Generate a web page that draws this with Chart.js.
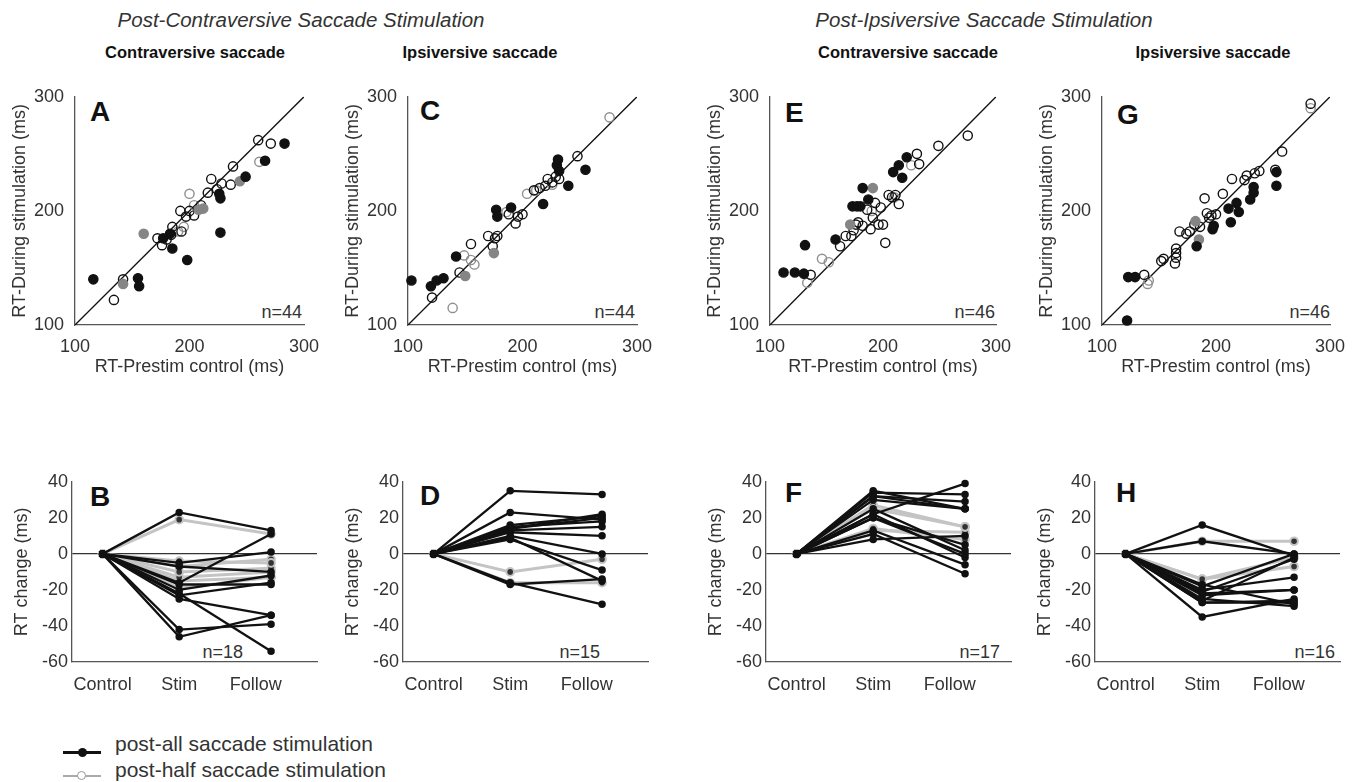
<!DOCTYPE html>
<html>
<head>
<meta charset="utf-8">
<script src="https://cdn.jsdelivr.net/npm/chart.js@4.4.1/dist/chart.umd.min.js"></script>
<style>
  body { margin: 0; width: 1359px; height: 782px; background: #fff; position: relative; overflow: hidden;
         font-family: "Liberation Sans", Arial, sans-serif; color: #333; }
  canvas { position: absolute; }
  .t { position: absolute; white-space: nowrap; line-height: 1; }
  .sup { font-size: 20.5px; font-style: italic; transform: translateX(-50%); }
  .ttl { font-size: 16.5px; font-weight: bold; color: #111; transform: translateX(-50%); }
  .let { font-size: 28px; font-weight: bold; color: #111; }
  .n { font-size: 18px; transform: translateX(-100%); }
  .leg { font-size: 21px; }
  .mk { position: absolute; }
</style>
</head>
<body>

<div class="t sup" style="left:301px;top:10px">Post-Contraversive Saccade Stimulation</div>
<div class="t sup" style="left:984px;top:10px">Post-Ipsiversive Saccade Stimulation</div>

<div class="t ttl" style="left:195px;top:44px">Contraversive saccade</div>
<div class="t ttl" style="left:480px;top:44px">Ipsiversive saccade</div>
<div class="t ttl" style="left:908px;top:44px">Contraversive saccade</div>
<div class="t ttl" style="left:1213px;top:44px">Ipsiversive saccade</div>

<div class="t let" style="left:90px;top:98px">A</div>
<div class="t let" style="left:420px;top:97px">C</div>
<div class="t let" style="left:785px;top:99px">E</div>
<div class="t let" style="left:1117px;top:101px">G</div>
<div class="t let" style="left:90px;top:483px">B</div>
<div class="t let" style="left:420px;top:482px">D</div>
<div class="t let" style="left:785px;top:479px">F</div>
<div class="t let" style="left:1116px;top:479px">H</div>

<div class="t n" style="left:302px;top:303px">n=44</div>
<div class="t n" style="left:635px;top:303px">n=44</div>
<div class="t n" style="left:995px;top:303px">n=46</div>
<div class="t n" style="left:1330px;top:303px">n=46</div>
<div class="t n" style="left:243px;top:643px">n=18</div>
<div class="t n" style="left:600px;top:643px">n=15</div>
<div class="t n" style="left:1000px;top:643px">n=17</div>
<div class="t n" style="left:1335px;top:643px">n=16</div>

<div class="mk" style="left:63px;top:751px;width:38px;height:3px;background:#111"></div>
<div class="mk" style="left:78px;top:748px;width:9px;height:9px;border-radius:50%;background:#111"></div>
<div class="t leg" style="left:115px;top:733px">post-all saccade stimulation</div>
<div class="mk" style="left:63px;top:775px;width:38px;height:2px;background:#aaa"></div>
<div class="mk" style="left:77px;top:771px;width:7px;height:7px;border-radius:50%;background:#fff;border:1.5px solid #999"></div>
<div class="t leg" style="left:115px;top:759px">post-half saccade stimulation</div>

<script>
// scatter panels: [prestim RT, during-stim RT] in ms
var rtTicks = [100, 200, 300];
var unity = [100, 300];

var A_solid = [[116,140],[155,141],[156,134],[177,176],[183,180],[185,167],[198,157],[226,215],[227,211],[227,181],[249,230],[266,244],[283,259]];
var A_gray = [[142,136],[160,180],[208,201],[212,202],[244,226]];
var A_open = [[134,122],[142,140],[172,176],[176,170],[180,175],[184,179],[185,186],[193,182],[192,200],[197,195],[200,200],[204,196],[210,205],[216,216],[224,219],[219,228],[228,224],[236,223],[238,239],[260,262],[271,259]];
var A_openGray = [[190,182],[195,186],[200,215],[204,205],[261,243]];

var C_solid = [[103,139],[120,134],[125,139],[131,141],[142,160],[177,201],[178,195],[190,203],[218,206],[230,240],[231,245],[232,235],[240,222],[255,236]];
var C_gray = [[150,143],[175,163]];
var C_open = [[121,124],[145,146],[155,171],[170,178],[174,169],[176,176],[178,178],[188,197],[194,189],[196,195],[200,197],[210,218],[215,220],[220,222],[222,228],[226,225],[229,230],[232,228],[248,248]];
var C_openGray = [[139,115],[149,161],[155,157],[158,153],[186,199],[204,215],[212,218],[226,223],[276,282]];

var E_solid = [[112,146],[122,146],[130,145],[131,170],[158,175],[173,204],[177,204],[180,204],[182,220],[187,210],[209,234],[214,240],[217,229],[221,247]];
var E_gray = [[171,188],[191,220]];
var E_open = [[136,144],[162,169],[167,178],[172,178],[174,183],[176,188],[178,190],[182,187],[186,201],[189,184],[191,194],[193,207],[196,188],[198,203],[200,188],[202,172],[205,214],[208,212],[211,214],[214,206],[230,250],[232,241],[249,257],[275,266]];
var E_openGray = [[133,137],[146,158],[152,155],[190,200],[210,212],[225,240]];

var G_solid = [[122,104],[123,142],[129,142],[183,169],[197,184],[198,187],[211,202],[213,190],[218,207],[220,199],[230,210],[233,221],[233,216],[253,234],[253,222]];
var G_gray = [[182,191],[185,175]];
var G_open = [[137,144],[152,156],[154,158],[164,154],[165,159],[165,163],[165,167],[168,182],[174,180],[177,182],[181,188],[186,186],[190,211],[192,198],[194,194],[196,196],[200,197],[206,215],[214,228],[225,227],[227,231],[234,233],[238,235],[252,236],[258,252],[283,294]];
var G_openGray = [[140,136],[141,139],[283,290]];

// RT change panels: each line is Control (0) -> Stim -> Follow, in ms
var phases = ["Control", "Stim", "Follow"];
var phaseX = [1, 2, 3.2];
var changeTicks = [-60, -40, -20, 0, 20, 40];

var B_allStim    = [23, -42, -46, -22, -25, -16, -5, -7, -17, -20, -23];
var B_allFollow  = [13, -39, -34, -54, -34, 11, 1, -10, -17, -12, -16];
var B_halfStim   = [19, -4, -10, -13, -15, -19, -7];
var B_halfFollow = [11, -5, -8, -10, -13, -13, -3];

var D_allStim    = [35, 23, 16, 15, 14, 13, 12, 10, 8, 9, -16, -17, 14];
var D_allFollow  = [33, 19, 21, 18, 20, 15, 10, 0, -9, -15, -28, -14, 22];
var D_halfStim   = [-10, -16];
var D_halfFollow = [-3, -16];

var F_allStim    = [34, 35, 32, 32, 22, 30, 20, 22, 11, 13, 8, 25, 20];
var F_allFollow  = [33, 25, 29, 25, 39, 25, 0, -2, -11, -6, 10, 2, 5];
var F_halfStim   = [25, 14, 27, 13];
var F_halfFollow = [15, 8, 15, 12];

var H_allStim    = [16, -35, -26, -27, -23, -20, -17, -25, -22, -18, -27, -21, 7];
var H_allFollow  = [-1, -25, -2, -27, -20, -13, -28, -29, -20, 0, -26, -3, 0];
var H_halfStim   = [7, -14, -14];
var H_halfFollow = [7, -7, -2];

Chart.defaults.font.family = '"Liberation Sans", Arial, sans-serif';
Chart.defaults.color = '#333';
Chart.defaults.animation = false;
Chart.defaults.plugins.legend.display = false;
Chart.defaults.plugins.tooltip.enabled = false;

function makeCanvas(left, top, w, h) {
  var c = document.createElement('canvas');
  c.width = w; c.height = h;
  c.style.left = left + 'px'; c.style.top = top + 'px';
  c.style.width = w + 'px'; c.style.height = h + 'px';
  document.body.appendChild(c);
  return c;
}

function dots(arr, fill, stroke) {
  return {
    data: arr.map(function (p) { return {x: p[0], y: p[1]}; }),
    backgroundColor: fill, borderColor: stroke, borderWidth: 1.4,
    pointRadius: 4.6, clip: false
  };
}

function scatterPanel(plotLeft, plotWidth, solid, gray, open, openGray) {
  var c = makeCanvas(plotLeft - 70, 83, plotWidth + 95, 304);
  new Chart(c, {
    type: 'scatter',
    data: {
      datasets: [
        dots(solid, '#111', '#111'),
        dots(gray, '#858585', '#858585'),
        dots(open, 'rgba(0,0,0,0)', '#111'),
        dots(openGray, 'rgba(0,0,0,0)', '#8f8f8f'),
        {
          data: unity.map(function (v) { return {x: v, y: v}; }),
          showLine: true, borderColor: '#111', borderWidth: 1.3, pointRadius: 0
        }
      ]
    },
    options: {
      responsive: false,
      layout: {padding: {top: 12, right: 25, left: 0, bottom: 0}},
      scales: {
        x: {
          type: 'linear', min: 100, max: 300,
          afterBuildTicks: function (s) { s.ticks = rtTicks.map(function (v) { return {value: v}; }); },
          ticks: {font: {size: 18}, padding: 3},
          grid: {display: false},
          border: {color: '#555', width: 1.3},
          title: {display: true, text: 'RT-Prestim control (ms)', font: {size: 18}, padding: {top: 0, bottom: 9}},
          afterFit: function (s) { s.height = 62; }
        },
        y: {
          type: 'linear', min: 100, max: 300,
          afterBuildTicks: function (s) { s.ticks = rtTicks.map(function (v) { return {value: v}; }); },
          ticks: {font: {size: 18}, padding: 3},
          grid: {display: false},
          border: {color: '#555', width: 1.3},
          title: {display: true, text: 'RT-During stimulation (ms)', font: {size: 18}, padding: {top: 4, bottom: 0}},
          afterFit: function (s) { s.width = 70; }
        }
      }
    }
  });
}

function changePanel(axisLeft, allStim, allFollow, halfStim, halfFollow) {
  var c = makeCanvas(axisLeft - 70, 467, 70 + 245 + 25, 245);
  function trace(s, f) {
    return [{x: phaseX[0], y: 0}, {x: phaseX[1], y: s}, {x: phaseX[2], y: f}];
  }
  var black = allStim.map(function (s, i) {
    return {data: trace(s, allFollow[i]), showLine: true, borderColor: '#111', borderWidth: 2.3,
            pointRadius: 2.6, pointBackgroundColor: '#111', pointBorderColor: '#111', clip: false};
  });
  var grey = halfStim.map(function (s, i) {
    return {data: trace(s, halfFollow[i]), showLine: true, borderColor: '#c4c4c4', borderWidth: 3,
            pointRadius: 3.8, pointBorderWidth: 2, pointBackgroundColor: '#333', pointBorderColor: '#c4c4c4', clip: false};
  });
  new Chart(c, {
    type: 'scatter',
    data: {datasets: black.concat(grey)},
    options: {
      responsive: false,
      layout: {padding: {top: 12, right: 25, left: 0, bottom: 0}},
      scales: {
        x: {
          type: 'linear', min: 0.6, max: 3.8,
          afterBuildTicks: function (s) { s.ticks = [1, 2, 3].map(function (v) { return {value: v}; }); },
          ticks: {font: {size: 18}, padding: 4, callback: function (v) { return phases[v - 1]; }},
          grid: {display: false},
          border: {color: '#555', width: 1.3},
          afterFit: function (s) { s.height = 50; }
        },
        y: {
          type: 'linear', min: -60, max: 40,
          afterBuildTicks: function (s) { s.ticks = changeTicks.map(function (v) { return {value: v}; }); },
          ticks: {font: {size: 18}, padding: 4},
          grid: {drawTicks: false, lineWidth: 1.3,
                 color: function (ctx) { return ctx.tick && ctx.tick.value === 0 ? '#333' : 'rgba(0,0,0,0)'; }},
          border: {color: '#555', width: 1.3},
          title: {display: true, text: 'RT change (ms)', font: {size: 18}, padding: {top: 9, bottom: 0}},
          afterFit: function (s) { s.width = 70; }
        }
      }
    }
  });
}

scatterPanel(75, 229, A_solid, A_gray, A_open, A_openGray);
scatterPanel(408, 229, C_solid, C_gray, C_open, C_openGray);
scatterPanel(770, 226, E_solid, E_gray, E_open, E_openGray);
scatterPanel(1102, 228, G_solid, G_gray, G_open, G_openGray);

changePanel(72, B_allStim, B_allFollow, B_halfStim, B_halfFollow);
changePanel(403, D_allStim, D_allFollow, D_halfStim, D_halfFollow);
changePanel(766, F_allStim, F_allFollow, F_halfStim, F_halfFollow);
changePanel(1095, H_allStim, H_allFollow, H_halfStim, H_halfFollow);
</script>
</body>
</html>
